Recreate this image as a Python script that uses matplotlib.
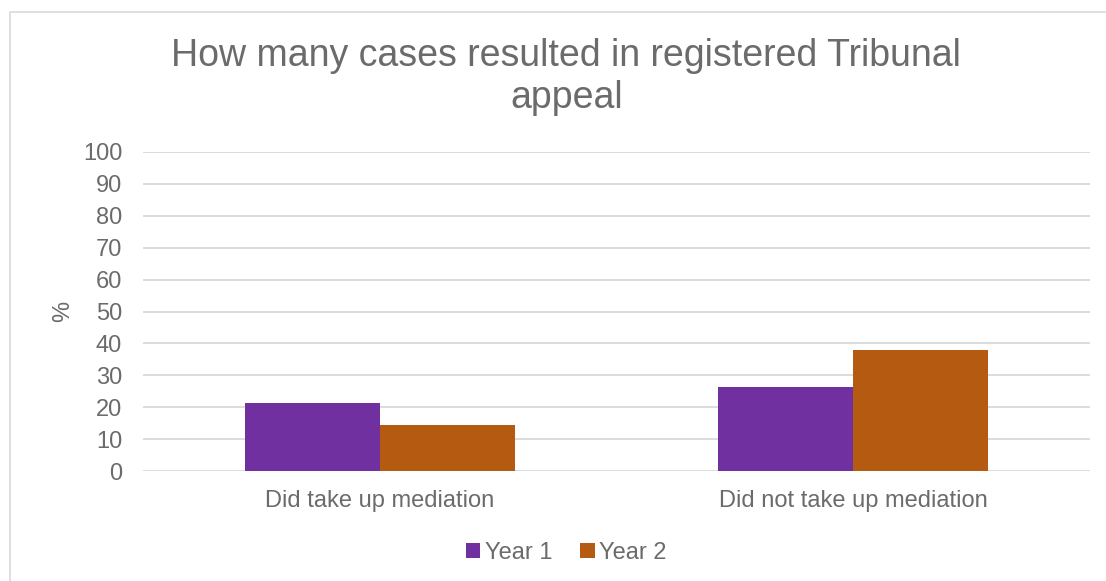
import numpy as np
import matplotlib.pyplot as plt
from matplotlib.patches import Rectangle

plt.rcParams['font.family'] = ['Liberation Sans', 'DejaVu Sans']

## data
categories = ["Did take up mediation", "Did not take up mediation"]
series_names = ["Year 1", "Year 2"]
year1 = [21.4, 26.3]
year2 = [14.4, 38.0]
yticks = list(range(0, 101, 10))

txt = '#6B6B6B'
colors = ['#7030A0', '#B45B11']

fig = plt.figure(figsize=(11.06, 5.81), dpi=100)
# chart border (Excel chart area)
fig.patches.append(Rectangle((10 / 1106, -0.01), 1.02, 1 - 12 / 581 + 0.01,
                             transform=fig.transFigure, fill=False,
                             edgecolor='#D9D9D9', linewidth=1.2))

ax = fig.add_axes([143 / 1106, 1 - 471 / 581, (1090 - 143) / 1106, (471 - 152) / 581])

x = np.arange(len(categories))
w = 0.285
b1 = ax.bar(x - w / 2, year1, w, color=colors[0], label=series_names[0], zorder=3)
b2 = ax.bar(x + w / 2, year2, w, color=colors[1], label=series_names[1], zorder=3)

ax.set_xlim(-0.5, len(categories) - 0.5)
ax.set_ylim(0, 100)
ax.set_yticks(yticks)
ax.set_yticklabels([str(t) for t in yticks])
ax.set_xticks(x)
ax.set_xticklabels(categories)
ax.tick_params(axis='both', length=0, labelsize=17, labelcolor=txt)
ax.tick_params(axis='y', pad=15)
ax.tick_params(axis='x', pad=14)
ax.yaxis.grid(True, color='#D9D9D9', linewidth=1.3, zorder=0)
for s in ax.spines.values():
    s.set_visible(False)

ax.set_ylabel('%', fontsize=17, color=txt, labelpad=6)

fig.text(0.512, 1 - 77 / 581, "How many cases resulted in registered Tribunal\nappeal",
         ha='center', va='center', fontsize=27, color=txt, linespacing=1.2)

fig.legend(handles=[b1, b2], loc='center', bbox_to_anchor=(0.512, 1 - 553 / 581),
           ncol=2, frameon=False, fontsize=17, labelcolor=txt,
           handlelength=0.6, handleheight=0.6, handletextpad=0.2, columnspacing=1.2)

fig.savefig('out.png', dpi=100)
